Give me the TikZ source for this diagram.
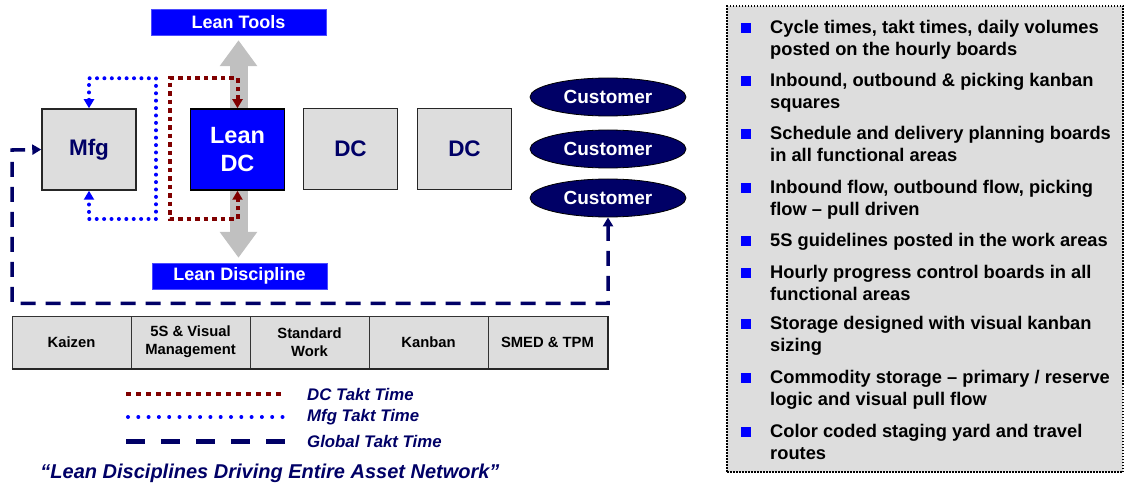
\documentclass[tikz,border=0pt]{standalone}
\usepackage{fontspec}
\setmainfont{Liberation Sans}
\usetikzlibrary{arrows.meta,shapes.geometric}

\definecolor{navy}{HTML}{000066}
\definecolor{boxgray}{HTML}{DDDDDD}
\definecolor{leanblue}{HTML}{0000FF}
\definecolor{taktred}{HTML}{800000}
\definecolor{shaftgray}{HTML}{C0C0C0}

\tikzset{
  site/.style={draw=black!85, line width=1.5pt, fill=boxgray, minimum width=94pt,
    minimum height=81pt, inner sep=0pt, text=navy,
    font=\fontsize{22.5}{26}\selectfont\bfseries},
  leansite/.style={site, draw=black, fill=leanblue, text=white, align=center,
    font=\fontsize{23.5}{28}\selectfont\bfseries},
  banner/.style={fill=leanblue, draw=blue!70, text=white, minimum width=175pt,
    minimum height=26pt, inner sep=0pt, font=\fontsize{18}{20}\selectfont\bfseries},
  customer/.style={ellipse, draw=black, line width=0.8pt, fill=navy, text=white,
    minimum width=156pt, minimum height=38pt, inner sep=0pt,
    font=\fontsize{19}{22}\selectfont\bfseries},
  tool/.style={draw=black!80, line width=1pt, fill=boxgray, minimum width=119pt,
    minimum height=52pt, inner sep=0pt, align=center,
    font=\fontsize{14.8}{18}\selectfont\bfseries},
  mfgtakt/.style={draw=leanblue, line width=4pt, line cap=round,
    dash pattern=on 0pt off 7.4pt},
  dctakt/.style={draw=taktred, line width=4pt, dash pattern=on 4.5pt off 4pt},
  globaltakt/.style={draw=navy, line width=3.5pt, dash pattern=on 15pt off 10pt},
  tips/.style={{Triangle[width=10pt,length=9pt]}-{Triangle[width=10pt,length=9pt]}},
  legendtext/.style={anchor=west, text=navy, inner sep=0pt,
    font=\fontsize{16.8}{18}\selectfont\bfseries\itshape},
  bullet/.style={fill=leanblue, minimum size=10pt, inner sep=0pt},
  point/.style={anchor=north west, inner sep=0pt, align=left, text=black,
    font=\fontsize{18.3}{21.5}\selectfont\bfseries}
}

\begin{document}
\begin{tikzpicture}[x=1pt,y=-1pt]
\useasboundingbox (0,0) rectangle (1128,484);

% banners above and below the lean DC
\node[banner] (tools) at (238.5,22) {Lean Tools};
\node[banner] (disc) at (239.5,276) {Lean Discipline};

% grey two-way arrow behind the lean DC
\draw[shaftgray, line width=18pt,
  {Triangle[width=36pt,length=26pt]}-{Triangle[width=36pt,length=26pt]}]
  ([yshift=-5pt]tools.south) -- ([yshift=5pt]tools.south |- disc.north);

% sites of the asset network
\node[site] (mfg) at (89,149.5) {Mfg};
\node[leansite] (leandc) at (237.5,149.5) {Lean\\DC};
\node[site] (dc1) at (350.5,149) {DC};
\node[site] (dc2) at (464.5,149) {DC};

\node[customer] (cust1) at (608,97) {Customer};
\node[customer] (cust2) at (608,149) {Customer};
\node[customer] (cust3) at (608,198) {Customer};

% takt time loops
\coordinate (mfgloop) at (156,219);
\coordinate (dcloop) at (170,219);
\coordinate (globalcorner) at (12,150);
\draw[mfgtakt, tips] (mfg.north) -- ++(0,-30) -| (mfgloop) -| (mfg.south);
\draw[dctakt, tips] (leandc.north) -- ++(0,-30) -| (dcloop) -| (leandc.south);
\draw[globaltakt, tips] (cust3.south) -- ++(0,86) -| (globalcorner) -- (mfg.west);

% lean tool bar
\node[tool] (t1) at (71.5,342) {Kaizen};
\node[tool] (t2) at (190.5,342) {5S \& Visual\\Management};
\node[tool] (t3) at (309.5,342) {Standard\\Work};
\node[tool] (t4) at (428.5,342) {Kanban};
\node[tool] (t5) at (547.5,342) {SMED \& TPM};
\draw[black!85, line width=2pt] (t1.south west) -- (t5.south east) -- (t5.north east);

% legend
\draw[dctakt, dash pattern=on 5pt off 5pt] (126,394) -- (283,394);
\draw[mfgtakt, dash pattern=on 0pt off 10.3pt] (128,417) -- (283,417);
\draw[globaltakt, line width=5pt, dash pattern=on 19pt off 16pt] (126,441) -- (285,441);
\node[legendtext] (lgdc) at (307,394) {DC Takt Time};
\node[legendtext] (lgmfg) at (307,417) {Mfg Takt Time};
\node[legendtext] (lgglobal) at (307,441) {Global Takt Time};

\node[text=navy, font=\fontsize{20}{22}\selectfont\bfseries\itshape] (motto) at (270,473)
  {“Lean Disciplines Driving Entire Asset Network”};

% visual management panel
\node[draw=black, line width=1.5pt, dash pattern=on 1.5pt off 1.5pt, fill=boxgray,
  minimum width=396pt, minimum height=466pt, inner sep=0pt] (panel) at (925,239) {};

\foreach \y/\txt [count=\i] in {
  27/{Cycle times, takt times, daily volumes\\posted on the hourly boards},
  80/{Inbound, outbound \& picking kanban\\squares},
  133/{Schedule and delivery planning boards\\in all functional areas},
  187/{Inbound flow, outbound flow, picking\\flow – pull driven},
  240/{5S guidelines posted in the work areas},
  272/{Hourly progress control boards in all\\functional areas},
  323/{Storage designed with visual kanban\\sizing},
  377/{Commodity storage – primary / reserve\\logic and visual pull flow},
  431/{Color coded staging yard and travel\\routes}} {
  \node[bullet] (b\i) at (746,\y+1) {};
  \node[point] (p\i) at (770,\y-6.8) {\txt};
}
\end{tikzpicture}
\end{document}
